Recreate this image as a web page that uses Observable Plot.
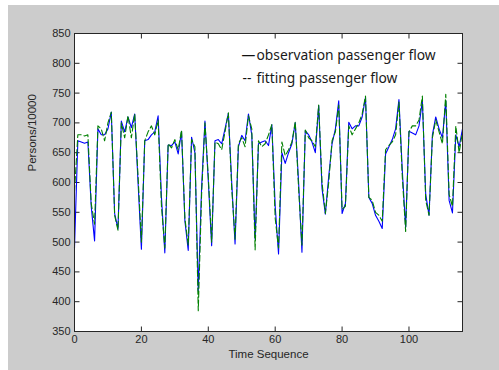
<!DOCTYPE html>
<html>
<head>
<meta charset="utf-8">
<script src="https://cdn.jsdelivr.net/npm/d3@7"></script>
<script src="https://cdn.jsdelivr.net/npm/@observablehq/plot@0.6"></script>
<style>
  html, body { margin: 0; padding: 0; background: #ffffff; }
  #wrap { position: relative; width: 499px; height: 370px; overflow: hidden; }
  #bg { position: absolute; left: 8px; top: 5px; width: 491px; height: 365px; background: #cccccc; }
  #chart { position: absolute; left: 0; top: 0; }
</style>
</head>
<body>
<div id="wrap"><div id="bg"></div><div id="chart"></div></div>
<script>
// Observation passenger flow (Persons/10000), time sequence 0..116
const observation = [
  490,670,668,666,668,560,502,690,680,680,
  690,718,548,522,703,685,710,692,715,600,
  488,670,672,680,685,712,575,482,663,662,
  668,648,686,536,486,676,650,418,592,703,
  603,494,670,672,665,690,716,600,497,660,
  679,670,715,680,505,665,668,670,662,697,
  560,480,650,632,650,665,700,600,483,687,
  680,668,650,729,590,547,610,665,690,737,
  548,565,701,690,695,695,710,743,575,565,
  545,535,523,648,660,672,690,739,620,525,
  686,683,680,695,737,580,545,680,710,690,
  675,737,570,549,680,660,690
];
// Fitting passenger flow
const fitting = [
  585,680,680,678,680,565,530,695,690,670,
  700,718,545,520,700,675,712,675,715,610,
  500,670,685,695,680,705,560,490,665,658,
  672,655,688,540,495,672,660,385,580,700,
  610,500,668,665,655,685,717,590,505,665,
  675,660,712,690,487,670,660,665,680,697,
  540,490,668,645,655,668,702,590,495,688,
  675,670,660,730,600,548,600,670,685,730,
  555,560,695,680,690,700,715,745,575,570,
  550,545,535,655,662,668,680,735,610,518,
  685,695,695,705,745,570,545,675,705,685,
  665,748,580,560,695,650,685
];
const xTicks = [0, 20, 40, 60, 80, 100];
const yTicks = [350, 400, 450, 500, 550, 600, 650, 700, 750, 800, 850];
const xDomain = [0, 116];
const yDomain = [350, 850];
const legendLabels = ["observation passenger flow", "fitting passenger flow"];
const xLabel = "Time Sequence";
const yLabel = "Persons/10000";

const obsData = observation.map((v, i) => ({t: i, v}));
const fitData = fitting.map((v, i) => ({t: i, v}));

const axisColor = "#262626";
const tickFont = "Liberation Sans, Arial, sans-serif";

const chart = Plot.plot({
  width: 499,
  height: 370,
  marginLeft: 74,
  marginRight: 37,
  marginTop: 33,
  marginBottom: 39,
  style: {background: "transparent", fontFamily: tickFont, fontSize: "11px", color: axisColor},
  x: {domain: xDomain, label: null},
  y: {domain: yDomain, label: null},
  marks: [
    Plot.frame({fill: "white", stroke: null}),
    // inward ticks: bottom/top
    Plot.link(xTicks, {x1: d => d, x2: d => d, y1: yDomain[0], y2: yDomain[1], stroke: axisColor, strokeDasharray: "5,2000"}),
    Plot.link(xTicks, {x1: d => d, x2: d => d, y1: yDomain[1], y2: yDomain[0], stroke: axisColor, strokeDasharray: "5,2000"}),
    // inward ticks: left/right
    Plot.link(yTicks, {y1: d => d, y2: d => d, x1: xDomain[0], x2: xDomain[1], stroke: axisColor, strokeDasharray: "5,2000"}),
    Plot.link(yTicks, {y1: d => d, y2: d => d, x1: xDomain[1], x2: xDomain[0], stroke: axisColor, strokeDasharray: "5,2000"}),
    Plot.axisX({ticks: xTicks, tickSize: 0, tickPadding: 4, label: null, fill: axisColor, fontSize: 11}),
    Plot.axisY({ticks: yTicks, tickSize: 0, tickPadding: 4, label: null, fill: axisColor, fontSize: 11}),
    Plot.line(obsData, {x: "t", y: "v", stroke: "#0000ff", strokeWidth: 1.1}),
    Plot.line(fitData, {x: "t", y: "v", stroke: "#008000", strokeWidth: 1.1, strokeDasharray: "6,3"}),
    Plot.frame({stroke: axisColor, strokeWidth: 1}),
    // axis titles
    Plot.text([xLabel], {text: d => d, frameAnchor: "bottom", dy: 26, fill: axisColor, fontSize: 11.5}),
    Plot.text([yLabel], {text: d => d, frameAnchor: "left", rotate: -90, dx: -42, dy: -11, fill: axisColor, fontSize: 11.5}),
    // legend
    Plot.text(["—"], {text: d => d, frameAnchor: "top-left", textAnchor: "start", dx: 167, dy: 17, fill: "#111", fontSize: 13.8, fontFamily: "Noto Sans"}),
    Plot.text([legendLabels[0]], {text: d => d, frameAnchor: "top-left", textAnchor: "start", dx: 182, dy: 17, fill: "#1a1a1a", fontSize: 13.8, fontFamily: "Noto Sans"}),
    Plot.text(["--"], {text: d => d, frameAnchor: "top-left", textAnchor: "start", dx: 168, dy: 40, fill: "#111", fontSize: 13.8, fontFamily: "Noto Sans"}),
    Plot.text([legendLabels[1]], {text: d => d, frameAnchor: "top-left", textAnchor: "start", dx: 182, dy: 40, fill: "#1a1a1a", fontSize: 13.8, fontFamily: "Noto Sans"})
  ]
});
document.getElementById("chart").appendChild(chart);
</script>
</body>
</html>
